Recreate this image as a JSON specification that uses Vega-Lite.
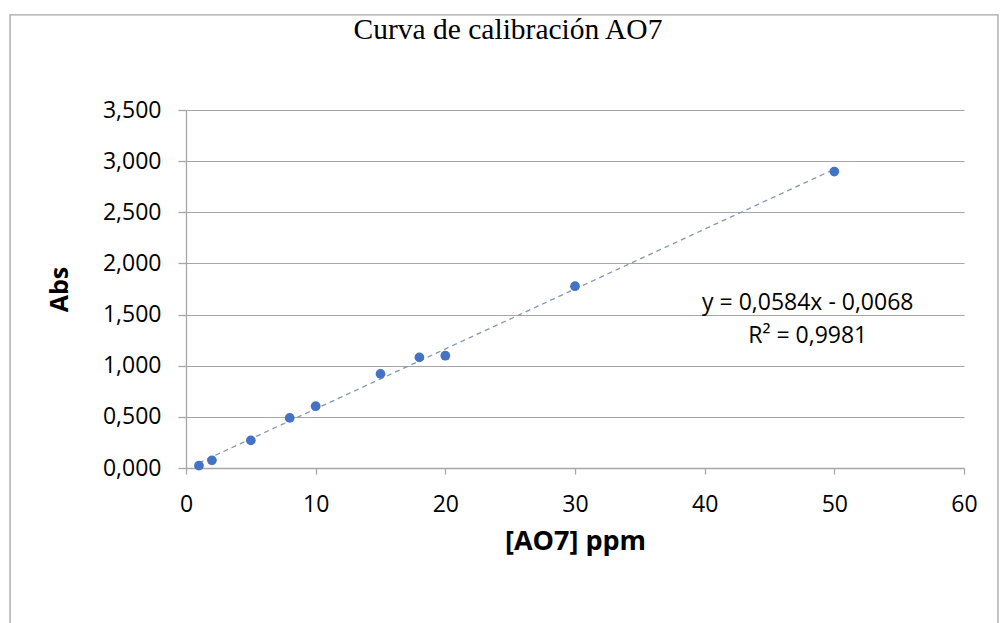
{
  "$schema": "https://vega.github.io/schema/vega-lite/v6.json",
  "autosize": "none",
  "width": 778,
  "height": 358,
  "padding": {"left": 186, "top": 110, "right": 36, "bottom": 155},
  "background": "white",
  "config": {"view": {"stroke": null}},
  "title": {
    "text": "Curva de calibración AO7",
    "font": "Liberation Serif",
    "fontSize": 29.5,
    "fontWeight": "normal",
    "color": "#000000",
    "anchor": "middle",
    "baseline": "alphabetic",
    "dx": -67,
    "offset": -54
  },
  "data": {
    "values": [
      {"ppm": 1, "Abs": 0.023},
      {"ppm": 2, "Abs": 0.075},
      {"ppm": 5, "Abs": 0.27},
      {"ppm": 8, "Abs": 0.49},
      {"ppm": 10, "Abs": 0.604},
      {"ppm": 15, "Abs": 0.92},
      {"ppm": 18, "Abs": 1.081},
      {"ppm": 20, "Abs": 1.098},
      {"ppm": 30, "Abs": 1.777},
      {"ppm": 50, "Abs": 2.898}
    ]
  },
  "layer": [
    {
      "data": {"values": [{}]},
      "mark": {"type": "rect", "fill": null, "stroke": "#a6a6a6", "strokeWidth": 1.3, "clip": false},
      "encoding": {
        "x": {"datum": -13.57, "type": "quantitative", "scale": {"domain": [0, 60]}},
        "x2": {"datum": 62.62},
        "y": {"datum": 4.43, "type": "quantitative", "scale": {"domain": [0, 3.5]}},
        "y2": {"datum": -1.6}
      }
    },
    {
      "transform": [{"regression": "Abs", "on": "ppm"}],
      "mark": {"type": "line", "color": "#8497b0", "strokeWidth": 1.3, "strokeDash": [5, 4]},
      "encoding": {
        "x": {"field": "ppm", "type": "quantitative"},
        "y": {"field": "Abs", "type": "quantitative"}
      }
    },
    {
      "mark": {"type": "circle", "color": "#4472c4", "opacity": 1, "size": 95},
      "encoding": {
        "x": {
          "field": "ppm",
          "type": "quantitative",
          "scale": {"domain": [0, 60], "nice": false},
          "axis": {
            "values": [0, 10, 20, 30, 40, 50, 60],
            "labelFlush": false,
            "title": "[AO7] ppm",
            "titleFont": "Open Sans",
            "titleFontSize": 27,
            "titleFontWeight": "bold",
            "titleColor": "#000000",
            "titlePadding": 12,
            "labelFont": "Open Sans",
            "labelFontSize": 23,
            "labelColor": "#000000",
            "labelPadding": 19,
            "grid": false,
            "domainColor": "#a6a6a6",
            "domainWidth": 1.3,
            "tickColor": "#a6a6a6",
            "tickSize": 6,
            "tickWidth": 1.3
          }
        },
        "y": {
          "field": "Abs",
          "type": "quantitative",
          "scale": {"domain": [0, 3.5], "nice": false},
          "axis": {
            "values": [0, 0.5, 1, 1.5, 2, 2.5, 3, 3.5],
            "labelFlush": false,
            "labelExpr": "replace(format(datum.value, '.3f'), '.', ',')",
            "title": "Abs",
            "titleFont": "Open Sans",
            "titleFontSize": 25,
            "titleFontWeight": "bold",
            "titleColor": "#000000",
            "titlePadding": 30,
            "labelFont": "Open Sans",
            "labelFontSize": 23,
            "labelColor": "#000000",
            "labelPadding": 17,
            "grid": true,
            "gridColor": "#a6a6a6",
            "gridWidth": 1.2,
            "domainColor": "#a6a6a6",
            "domainWidth": 1.3,
            "tickColor": "#a6a6a6",
            "tickSize": 8,
            "tickWidth": 1.3
          }
        }
      }
    },
    {
      "data": {"values": [{}]},
      "mark": {"type": "text", "font": "Open Sans", "fontSize": 23, "fontWeight": "normal", "fill": "#000000", "align": "center", "baseline": "middle", "lineHeight": 33},
      "encoding": {
        "x": {"datum": 47.95, "type": "quantitative"},
        "y": {"datum": 1.613, "type": "quantitative"},
        "text": {"value": ["y = 0,0584x - 0,0068", "R² = 0,9981"]}
      }
    }
  ]
}
